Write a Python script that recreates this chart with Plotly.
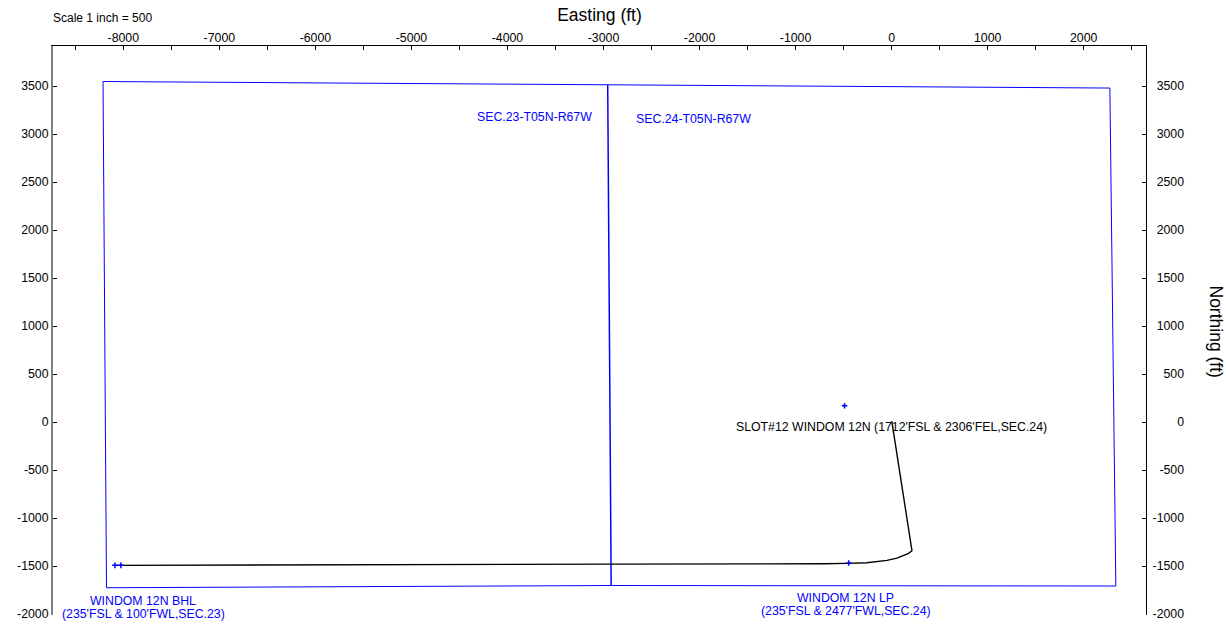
import plotly.graph_objects as go

FONT = "Liberation Sans"
BLUE = "#0000ff"

# Section boundaries (ft)
outer_e = [-8211, -2956, 2273, 2335, -2920, -8175, -8211]
outer_n = [3547, 3510, 3479, -1708, -1703, -1726, 3547]
divider_e = [-2956, -2920]
divider_n = [3510, -1703]

# Well path (ft)
well_e = [2, 212, 177, 125, 56, -48, -152, -257, -465, -708, -2930, -8087]
well_n = [10, -1340, -1368, -1392, -1417, -1441, -1455, -1465, -1472, -1476, -1480, -1493]

# Target markers (ft)
marker_e = [-490, -446, -8025, -8087]
marker_n = [170, -1469, -1493, -1493]

# Labels: text, easting, northing, colour
label_text = ["SEC.23-T05N-R67W", "SEC.24-T05N-R67W",
              "SLOT#12 WINDOM 12N (1712'FSL & 2306'FEL,SEC.24)",
              "WINDOM 12N BHL", "(235'FSL & 100'FWL,SEC.23)",
              "WINDOM 12N LP", "(235'FSL & 2477'FWL,SEC.24)"]
label_e = [-3717, -2062, 0, -7790, -7790, -480, -480]
label_n = [3179, 3158, -52, -1865, -2000, -1833, -1968]
label_color = [BLUE, BLUE, "#000000", BLUE, BLUE, BLUE, BLUE]

# Ticks, labelled with a plain hyphen as in the source
x_tickvals = [-8000, -7000, -6000, -5000, -4000, -3000, -2000, -1000, 0, 1000, 2000]
x_ticktext = ["-8000", "-7000", "-6000", "-5000", "-4000", "-3000", "-2000", "-1000", "0", "1000", "2000"]
y_tickvals = [-2000, -1500, -1000, -500, 0, 500, 1000, 1500, 2000, 2500, 3000, 3500]
y_ticktext = ["-2000", "-1500", "-1000", "-500", "0", "500", "1000", "1500", "2000", "2500", "3000", "3500"]

x_range = [-8732, 2649]
y_range = [-2010, 3917]
y_label_range = [-2114.17, 3917]

fig = go.Figure()
fig.add_trace(go.Scatter(x=outer_e, y=outer_n, mode="lines", line=dict(color=BLUE, width=1), hoverinfo="skip"))
fig.add_trace(go.Scatter(x=divider_e, y=divider_n, mode="lines", line=dict(color=BLUE, width=1.5), hoverinfo="skip"))
fig.add_trace(go.Scatter(x=well_e, y=well_n, mode="lines", line=dict(color="#000000", width=1.4), hoverinfo="skip"))
fig.add_trace(go.Scatter(x=marker_e, y=marker_n, mode="markers",
                         marker=dict(symbol="cross-thin", size=4, line=dict(color=BLUE, width=1.5)), hoverinfo="skip"))
fig.add_trace(go.Scatter(x=[None], y=[None], yaxis="y2", showlegend=False))
fig.add_trace(go.Scatter(x=[None], y=[None], yaxis="y3", showlegend=False))

for t, e, n, c in zip(label_text, label_e, label_n, label_color):
    fig.add_annotation(x=e, y=n, text=t, showarrow=False, xanchor="center", yanchor="middle",
                       font=dict(family=FONT, size=12.3, color=c))
fig.add_annotation(xref="paper", yref="paper", x=0, y=1, yshift=28, xanchor="left", yanchor="middle",
                   xshift=-2, text="Scale 1 inch = 500", showarrow=False,
                   font=dict(family=FONT, size=12, color="#000000"))
fig.add_annotation(xref="paper", yref="paper", x=1, y=0.5, xshift=20, yshift=4, xanchor="center", yanchor="middle",
                   text="Northing (ft)", textangle=90, showarrow=False,
                   font=dict(family=FONT, size=17.5, color="#000000"))

tick = dict(ticks="inside", ticklen=4, tickwidth=1, tickcolor="#000000", showgrid=False, zeroline=False,
            automargin=False, tickmode="array", tickfont=dict(family=FONT, size=12.3, color="#000000"))

PLOT_W = 1226 - 53 - 30
PLOT_H = 631 - 46 - 6
Y_DOMAIN = [10 / PLOT_H, 1]

fig.update_layout(
    width=1226, height=631, autosize=False, showlegend=False,
    margin=dict(l=53, r=30, t=46, b=6, pad=0),
    paper_bgcolor="#ffffff", plot_bgcolor="rgba(0,0,0,0)",
    xaxis=dict(range=x_range, domain=[0, 1093 / PLOT_W], side="top", tickvals=x_tickvals, ticktext=x_ticktext,
               showline=True, linecolor="#000000", linewidth=1, ticklabelstandoff=-2,
               minor=dict(tick0=0, dtick=500, ticks="inside", ticklen=4, tickwidth=1, tickcolor="#000000", showgrid=False),
               title=dict(text="Easting (ft)", font=dict(family=FONT, size=17.5, color="#000000"), standoff=4), **tick),
    yaxis=dict(range=y_range, domain=Y_DOMAIN, tickvals=y_tickvals, ticktext=y_ticktext, showline=True,
               linecolor="#808080", linewidth=2, **tick),
    yaxis2=dict(range=y_range, tickvals=y_tickvals, ticktext=y_ticktext, overlaying="y", side="right",
                showline=True, linecolor="#000000", linewidth=1, showticklabels=False, **tick),
    yaxis3=dict(range=y_label_range, domain=[0, 1], tickvals=y_tickvals, ticktext=y_ticktext, side="right",
                anchor="free", position=(1187 - 53) / PLOT_W, ticklabelposition="inside", showline=False,
                showgrid=False, zeroline=False, ticks="", tickmode="array", automargin=False,
                tickfont=dict(family=FONT, size=12.3, color="#000000")),
)

fig.write_html("out.html", config=dict(displayModeBar=False),
               post_script="document.body.style.margin='0';document.documentElement.style.overflow='hidden';")
